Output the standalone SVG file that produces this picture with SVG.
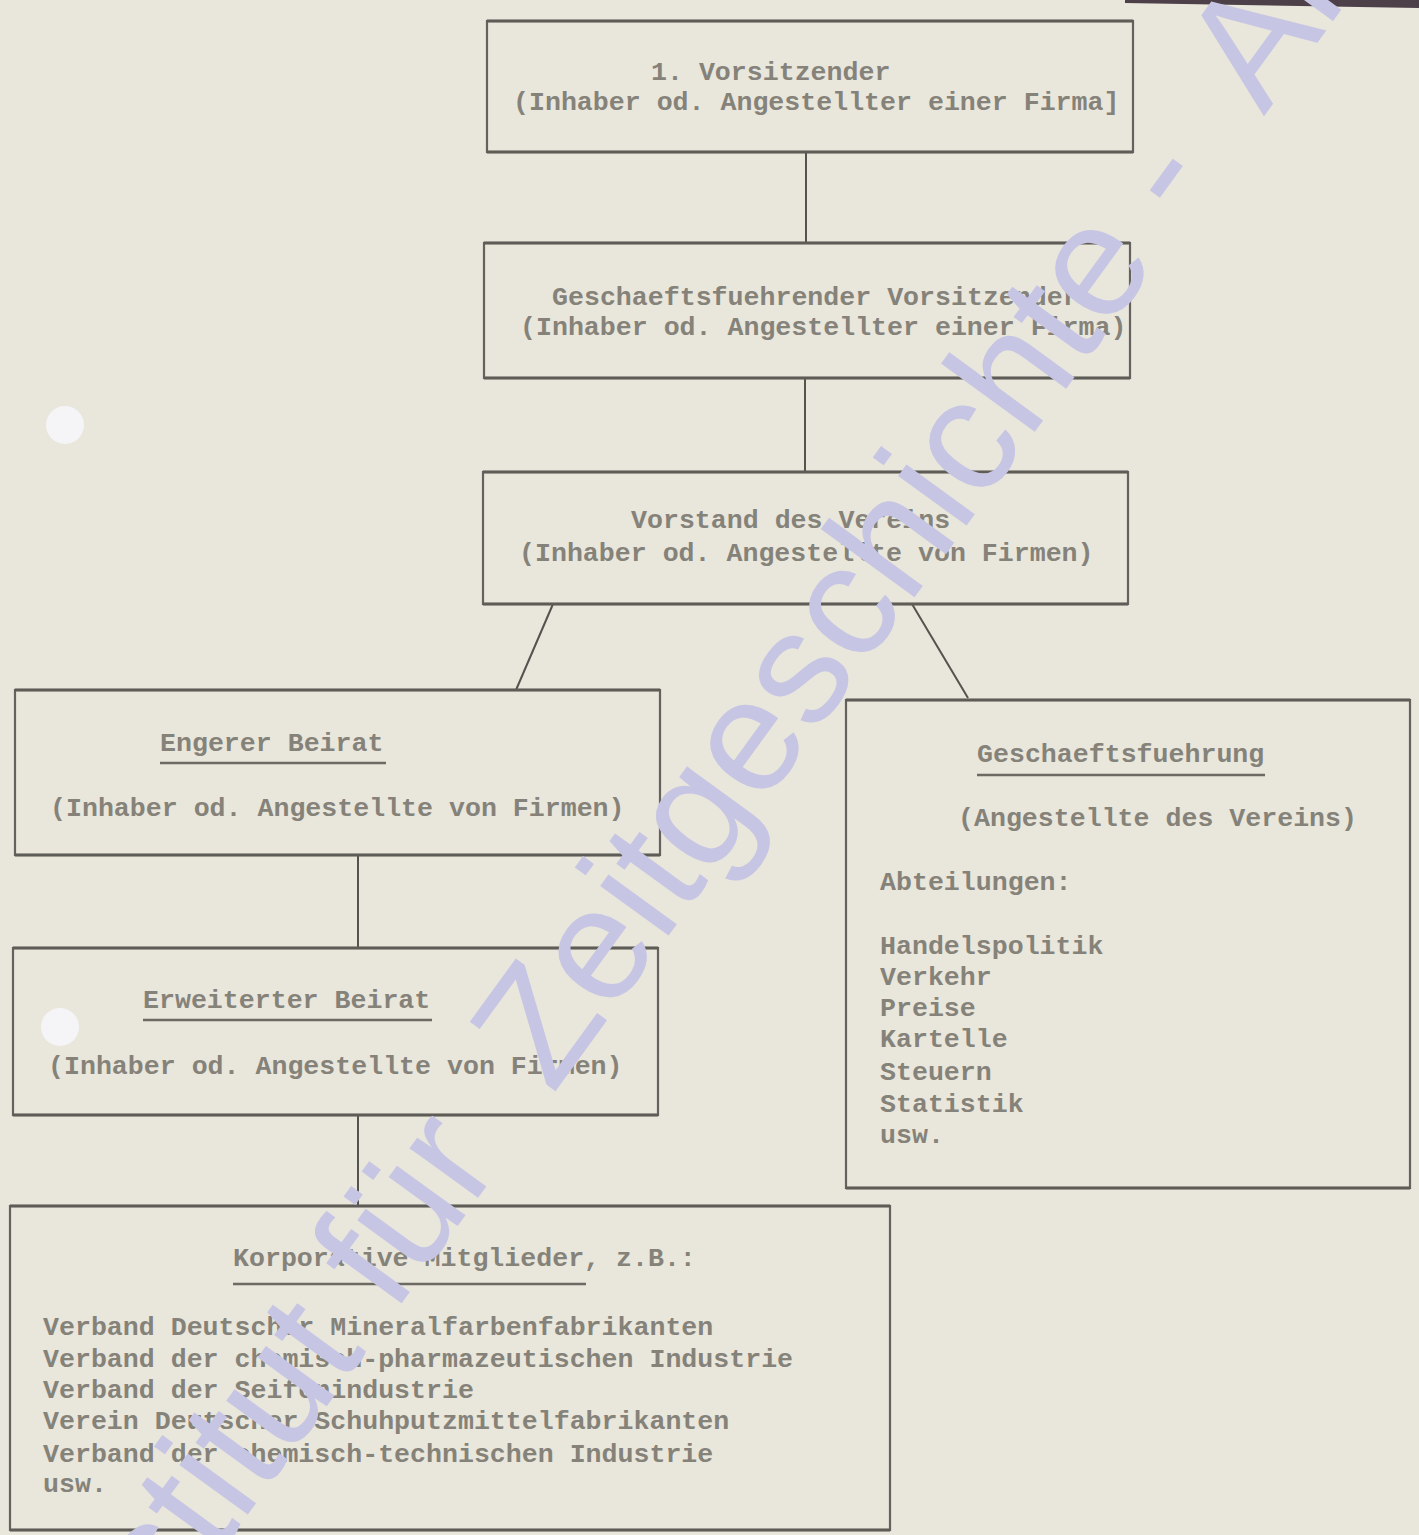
<svg xmlns="http://www.w3.org/2000/svg" width="1419" height="1535" viewBox="0 0 1419 1535">
<defs>
<style>
.bg{fill:#e9e6dc}
.box{fill:none;stroke:#64625c;stroke-width:2.2}
.edge{stroke:#5e5c56;stroke-width:3}
.t{font-family:"Liberation Mono","Courier New",monospace;font-size:26.6px;font-weight:bold;fill:#858279}
.ul{stroke:#6c6a63;stroke-width:2.4}
.conn{stroke:#55534e;stroke-width:2;fill:none}
.wm{font-family:"Liberation Sans",Arial,sans-serif;font-size:160px;fill:#c7c5e4}
.hole{fill:#f5f5f8}
</style>
</defs>
<rect class="bg" x="0" y="0" width="1419" height="1535"/>
<polygon points="1125,0 1419,0 1419,8 1125,3" fill="#4d4048"/>
<circle class="hole" cx="65" cy="425" r="19"/>
<circle class="hole" cx="60" cy="1027" r="19"/>

<g id="connectors">
<line class="conn" x1="806" y1="152" x2="806" y2="243"/>
<line class="conn" x1="805" y1="378" x2="805" y2="472"/>
<line class="conn" x1="553" y1="604" x2="516" y2="690"/>
<line class="conn" x1="912" y1="604" x2="968" y2="698"/>
<line class="conn" x1="358" y1="855" x2="358" y2="948"/>
<line class="conn" x1="358" y1="1115" x2="358" y2="1206"/>
</g>

<g id="node-vorsitzender">
<rect class="box" x="487" y="21" width="646" height="131"/>
<line class="edge" x1="487" y1="21" x2="1133" y2="21"/>
<line class="edge" x1="487" y1="152" x2="1133" y2="152"/>
<text class="t" x="651" y="80">1. Vorsitzender</text>
<text class="t" x="513" y="110">(Inhaber od. Angestellter einer Firma]</text>
</g>

<g id="node-geschaeftsfuehrender-vorsitzender">
<rect class="box" x="484" y="243" width="646" height="135"/>
<line class="edge" x1="484" y1="243" x2="1130" y2="243"/>
<line class="edge" x1="484" y1="378" x2="1130" y2="378"/>
<text class="t" x="552" y="305">Geschaeftsfuehrender Vorsitzender</text>
<text class="t" x="520" y="335">(Inhaber od. Angestellter einer Firma)</text>
</g>

<g id="node-vorstand">
<rect class="box" x="483" y="472" width="645" height="132"/>
<line class="edge" x1="483" y1="472" x2="1128" y2="472"/>
<line class="edge" x1="483" y1="604" x2="1128" y2="604"/>
<text class="t" x="631" y="528">Vorstand des Vereins</text>
<text class="t" x="519" y="561">(Inhaber od. Angestellte von Firmen)</text>
</g>

<g id="node-engerer-beirat">
<rect class="box" x="15" y="690" width="645" height="165"/>
<line class="edge" x1="15" y1="690" x2="660" y2="690"/>
<line class="edge" x1="15" y1="855" x2="660" y2="855"/>
<text class="t" x="160" y="751">Engerer Beirat</text>
<line class="ul" x1="160" y1="763" x2="386" y2="763"/>
<text class="t" x="50" y="816">(Inhaber od. Angestellte von Firmen)</text>
</g>

<g id="node-erweiterter-beirat">
<rect class="box" x="13" y="948" width="645" height="167"/>
<line class="edge" x1="13" y1="948" x2="658" y2="948"/>
<line class="edge" x1="13" y1="1115" x2="658" y2="1115"/>
<text class="t" x="143" y="1008">Erweiterter Beirat</text>
<line class="ul" x1="143" y1="1020" x2="432" y2="1020"/>
<text class="t" x="48" y="1074">(Inhaber od. Angestellte von Firmen)</text>
</g>

<g id="node-korporative-mitglieder">
<rect class="box" x="10" y="1206" width="880" height="324"/>
<line class="edge" x1="10" y1="1206" x2="890" y2="1206"/>
<line class="edge" x1="10" y1="1530" x2="890" y2="1530"/>
<text class="t" x="233" y="1266">Korporative Mitglieder, z.B.:</text>
<line class="ul" x1="233" y1="1284" x2="586" y2="1284"/>
<text class="t" x="43" y="1335">Verband Deutscher Mineralfarbenfabrikanten</text>
<text class="t" x="43" y="1367">Verband der chemisch-pharmazeutischen Industrie</text>
<text class="t" x="43" y="1398">Verband der Seifenindustrie</text>
<text class="t" x="43" y="1429">Verein Deutscher Schuhputzmittelfabrikanten</text>
<text class="t" x="43" y="1462">Verband der chemisch-technischen Industrie</text>
<text class="t" x="43" y="1492">usw.</text>
</g>

<g id="node-geschaeftsfuehrung">
<rect class="box" x="846" y="700" width="564" height="488"/>
<line class="edge" x1="846" y1="700" x2="1410" y2="700"/>
<line class="edge" x1="846" y1="1188" x2="1410" y2="1188"/>
<text class="t" x="977" y="762">Geschaeftsfuehrung</text>
<line class="ul" x1="977" y1="775" x2="1265" y2="775"/>
<text class="t" x="958" y="826">(Angestellte des Vereins)</text>
<text class="t" x="880" y="890">Abteilungen:</text>
<text class="t" x="880" y="954">Handelspolitik</text>
<text class="t" x="880" y="985">Verkehr</text>
<text class="t" x="880" y="1016">Preise</text>
<text class="t" x="880" y="1047">Kartelle</text>
<text class="t" x="880" y="1080">Steuern</text>
<text class="t" x="880" y="1112">Statistik</text>
<text class="t" x="880" y="1143">usw.</text>
</g>

<text class="wm" transform="translate(90,1732) rotate(-54)" x="0" y="0">Institut für <tspan dx="40">Zeitgeschichte -</tspan><tspan dx="45"> Archiv</tspan></text>
</svg>
